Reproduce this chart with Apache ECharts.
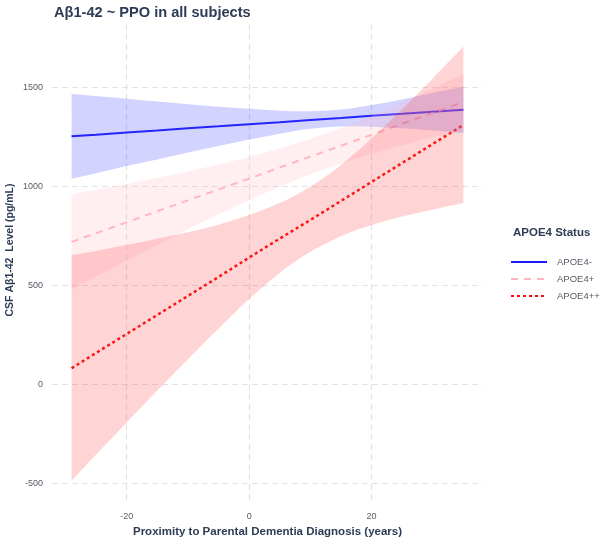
<!DOCTYPE html>
<html>
<head>
<meta charset="utf-8">
<script src="https://cdn.jsdelivr.net/npm/echarts@6/dist/echarts.min.js"></script>
<style>html,body{margin:0;padding:0;background:#fff}#c{width:600px;height:542px}</style>
</head>
<body>
<div id="c"></div>
<script>
// ---- data ----
const xs = [-29, -25, -20, -15, -10, -5, 0, 5, 10, 15, 20, 25, 30, 35];

const negName = 'APOE4-';
const negFit = [1253, 1261, 1272, 1282, 1293, 1303, 1314, 1324, 1335, 1345, 1356, 1366, 1377, 1387];
const negHi  = [1468, 1456, 1442, 1428, 1415, 1402, 1392, 1382, 1379, 1388, 1411, 1439, 1472, 1504];
const negLo  = [1038, 1066, 1102, 1136, 1171, 1204, 1236, 1266, 1291, 1302, 1301, 1293, 1282, 1270];

const posName = 'APOE4+';
const posFit = [719, 763, 818, 874, 929, 984, 1039, 1095, 1150, 1205, 1260, 1316, 1371, 1426];
const posHi  = [959, 982, 1012, 1043, 1075, 1110, 1148, 1192, 1240, 1295, 1356, 1424, 1494, 1569];
const posLo  = [479, 544, 624, 705, 783, 858, 930, 998, 1060, 1115, 1164, 1208, 1248, 1283];

const ppName = 'APOE4++';
const ppFit = [81, 158, 254, 350, 446, 542, 640, 736, 830, 926, 1022, 1118, 1214, 1310];
const ppHi  = [652, 673, 703, 735, 768, 806, 855, 915, 998, 1108, 1242, 1390, 1545, 1706];
const ppLo  = [-487, -355, -193, -32, 126, 281, 430, 563, 669, 748, 804, 847, 883, 916];

const xTicks = [-20, 0, 20];
const yTicks = [-500, 0, 500, 1000, 1500];

const titleText = 'Aβ1-42 ~ PPO in all subjects';
const xTitle = 'Proximity to Parental Dementia Diagnosis (years)';
const yTitle = 'CSF Aβ1-42  Level (pg/mL)';
const legendTitle = 'APOE4 Status';

// ---- chart ----
const dark = '#2d3c55';
const grayTxt = '#555a63';
const gridColor = '#e3e3e3';
const ff = 'Liberation Sans, Arial, sans-serif';

// smooth path through pixel points (Catmull-Rom -> cubic Bezier), continuing from current point
function smoothSeg(pts) {
  let d = '';
  for (let i = 0; i < pts.length - 1; i++) {
    const p0 = pts[Math.max(0, i - 1)], p1 = pts[i], p2 = pts[i + 1], p3 = pts[Math.min(pts.length - 1, i + 2)];
    const c1 = [p1[0] + (p2[0] - p0[0]) / 6, p1[1] + (p2[1] - p0[1]) / 6];
    const c2 = [p2[0] - (p3[0] - p1[0]) / 6, p2[1] - (p3[1] - p1[1]) / 6];
    d += ' C' + c1[0] + ' ' + c1[1] + ' ' + c2[0] + ' ' + c2[1] + ' ' + p2[0] + ' ' + p2[1];
  }
  return d;
}

function bandSeries(name, lo, hi, fill, z) {
  return {
    type: 'custom',
    name: name + ' band',
    silent: true,
    z: z,
    data: xs.map((x, i) => [x, lo[i], hi[i]]),
    encode: { x: 0, y: [1, 2] },
    renderItem: function (params, api) {
      if (params.dataIndex !== 0) return;
      const up = xs.map((x, i) => api.coord([x, hi[i]]));
      const dn = xs.map((x, i) => api.coord([x, lo[i]])).reverse();
      const d = 'M' + up[0][0] + ' ' + up[0][1] + smoothSeg(up) +
        ' L' + dn[0][0] + ' ' + dn[0][1] + smoothSeg(dn) + ' Z';
      return { type: 'path', shape: { pathData: d }, style: { fill: fill } };
    }
  };
}

function lineSeries(name, fit, color, type, width) {
  return {
    type: 'line',
    name: name,
    z: 2,
    symbol: 'none',
    showSymbol: false,
    data: xs.map((x, i) => [x, fit[i]]),
    lineStyle: { color: color, width: width, type: type },
    itemStyle: { color: color }
  };
}

const chart = echarts.init(document.getElementById('c'), null, { renderer: 'canvas' });
chart.setOption({
  animation: false,
  backgroundColor: '#ffffff',
  title: {
    text: titleText, left: 49, top: 0,
    textStyle: { fontFamily: ff, fontSize: 14.6, fontWeight: 'bold', color: dark }
  },
  grid: { left: 52, right: 117, top: 24, bottom: 41, containLabel: false, outerBoundsMode: 'none' },
  legend: {
    orient: 'vertical', left: 505, top: 252,
    itemWidth: 36, itemHeight: 12, itemGap: 7,
    data: [negName, posName, ppName],
    itemStyle: { opacity: 0 },
    textStyle: { fontFamily: ff, fontSize: 9.5, color: grayTxt, padding: [0, 0, 0, 5] }
  },
  graphic: [{
    type: 'text', left: 513, top: 227,
    style: { text: legendTitle, font: 'bold 11.5px "Liberation Sans", Arial, sans-serif', fill: dark }
  }, {
    type: 'text', x: 10.5, y: 250, rotation: Math.PI / 2,
    style: { text: yTitle, font: 'bold 10.5px "Liberation Sans", Arial, sans-serif', fill: dark,
             align: 'center', verticalAlign: 'middle' }
  }],
  xAxis: {
    type: 'value', min: -32.2, max: 38.2,
    name: xTitle, nameLocation: 'middle', nameGap: 24,
    nameTextStyle: { fontFamily: ff, fontSize: 11.5, fontWeight: 'bold', color: dark },
    axisLine: { show: false },
    axisTick: { show: false, customValues: xTicks },
    axisLabel: { customValues: xTicks, fontFamily: ff, fontSize: 9, color: grayTxt, margin: 11, formatter: v => String(v) },
    splitLine: { show: true, lineStyle: { color: gridColor, width: 1.2, type: [6, 4] } }
  },
  yAxis: {
    type: 'value', min: -590, max: 1820,
    axisLine: { show: false },
    axisTick: { show: false, customValues: yTicks },
    axisLabel: { customValues: yTicks, fontFamily: ff, fontSize: 9, color: grayTxt, margin: 9, formatter: v => String(v) },
    splitLine: { show: true, lineStyle: { color: gridColor, width: 1.2, type: [6, 4] } }
  },
  series: [
    lineSeries(negName, negFit, '#1a1aff', 'solid', 2),
    lineSeries(posName, posFit, '#ffb6c1', [7, 6], 2),
    lineSeries(ppName, ppFit, '#ff0a0a', [3, 3], 2.5),
    bandSeries(negName, negLo, negHi, 'rgba(70,70,255,0.24)', 3),
    bandSeries(posName, posLo, posHi, 'rgba(255,180,190,0.22)', 3),
    bandSeries(ppName, ppLo, ppHi, 'rgba(255,60,60,0.22)', 3)
  ]
});
</script>
</body>
</html>
